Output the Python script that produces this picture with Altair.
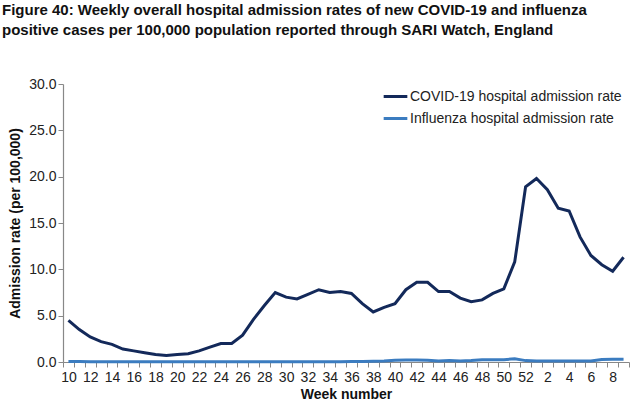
import altair as alt
import pandas as pd

weeks = [str(w) for w in range(10, 53)] + [str(w) for w in range(1, 10)]
covid = [4.5, 3.5, 2.7, 2.2, 1.9, 1.4, 1.2, 1.0, 0.8, 0.7, 0.8, 0.9, 1.2, 1.6, 2.0, 2.0,
         2.9, 4.6, 6.1, 7.5, 7.0, 6.8, 7.3, 7.8, 7.5, 7.6, 7.4, 6.3, 5.4, 5.9, 6.3, 7.8,
         8.6, 8.6, 7.6, 7.6, 6.9, 6.5, 6.7, 7.4, 7.9, 10.8, 18.9,
         19.8, 18.6, 16.6, 16.3, 13.5, 11.5, 10.5, 9.8, 11.3]
flu = [0.05, 0.05, 0.04, 0.03, 0.02, 0.02, 0.02, 0.02, 0.02, 0.02, 0.02, 0.02, 0.02, 0.02, 0.02, 0.02,
       0.02, 0.02, 0.02, 0.02, 0.02, 0.02, 0.03, 0.03, 0.03, 0.04, 0.05, 0.06, 0.08, 0.10, 0.20, 0.22,
       0.22, 0.20, 0.12, 0.15, 0.12, 0.15, 0.25, 0.25, 0.25, 0.35, 0.15,
       0.10, 0.10, 0.10, 0.12, 0.10, 0.12, 0.28, 0.30, 0.30]
series_names = ["COVID-19 hospital admission rate", "Influenza hospital admission rate"]
colors = ["#13295a", "#3b7cc0"]

df = pd.concat([
    pd.DataFrame({"week": weeks, "rate": covid, "series": series_names[0]}),
    pd.DataFrame({"week": weeks, "rate": flu, "series": series_names[1]}),
])

font = "Liberation Sans"

chart = alt.Chart(df).mark_line(strokeWidth=3, strokeJoin="miter").encode(
    x=alt.X("week:O", sort=weeks, bandPosition=0.5,
            scale=alt.Scale(type="band", paddingInner=0, paddingOuter=0),
            axis=alt.Axis(title="Week number", labelAngle=0, labelOverlap=False,
                          labelExpr="toNumber(datum.value) % 2 == 0 ? datum.value : ''",
                          tickBand="extent", tickSize=5, labelPadding=3,
                          titlePadding=3)),
    y=alt.Y("rate:Q", scale=alt.Scale(domain=[0, 30]),
            axis=alt.Axis(title="Admission rate (per 100,000)", values=[0, 5, 10, 15, 20, 25, 30],
                          format=".1f", tickSize=5, grid=False, titlePadding=6)),
    color=alt.Color("series:N", sort=series_names,
                    scale=alt.Scale(domain=series_names, range=colors),
                    legend=alt.Legend(title=None, orient="none", legendX=319, legendY=-1,
                                      symbolType="stroke", symbolSize=560, symbolStrokeWidth=3,
                                      labelFont=font, labelFontSize=14, labelColor="#222",
                                      labelLimit=0, rowPadding=1, labelOffset=1)),
).properties(
    width=566, height=278,
    title=alt.TitleParams(
        ["Figure 40: Weekly overall hospital admission rates of new COVID-19 and influenza",
         "positive cases per 100,000 population reported through SARI Watch, England"],
        anchor="start", frame="group", dx=-61, offset=39, font=font, fontSize=15,
        fontWeight="bold", color="#111", lineHeight=20),
    autosize=alt.AutoSizeParams(type="none"),
    padding={"left": 63, "top": 84, "right": 11, "bottom": 49},
).configure_view(stroke=None).configure_axis(
    labelFont=font, labelFontSize=14, labelColor="#222",
    titleFont=font, titleFontSize=14, titleFontWeight="bold", titleColor="#111",
    domainColor="#888", tickColor="#888", domainWidth=1.2,
)

chart.save("out.html", embed_options={"renderer": "svg", "actions": False})
